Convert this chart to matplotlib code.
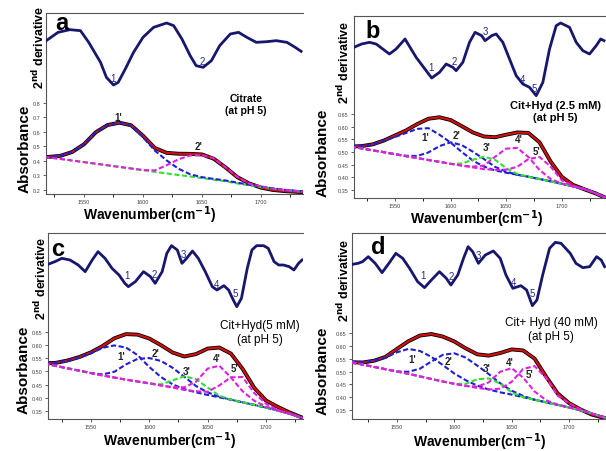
import numpy as np
import matplotlib.pyplot as plt
from matplotlib.ticker import MultipleLocator, FormatStrFormatter

plt.rcParams['font.family'] = ['Liberation Sans', 'DejaVu Sans']

# wavenumber grid of the fitted absorbance curves (cm-1)
wn = [1510, 1520, 1530, 1540, 1550, 1560, 1570, 1580, 1590, 1600, 1610, 1620,
      1630, 1640, 1650, 1660, 1670, 1680, 1690, 1700, 1710, 1720, 1730, 1740]

# panel a: citrate
a_total = [0.428, 0.428, 0.435, 0.462, 0.515, 0.598, 0.648, 0.664, 0.646, 0.574, 0.49, 0.456,
           0.45, 0.449, 0.445, 0.415, 0.355, 0.288, 0.245, 0.216, 0.2, 0.192, 0.187, 0.183]
a_base = [0.432, 0.424, 0.414, 0.403, 0.392, 0.381, 0.37, 0.359, 0.348, 0.337, 0.325, 0.314,
          0.303, 0.293, 0.282, 0.271, 0.26, 0.245, 0.232, 0.22, 0.209, 0.2, 0.192, 0.185]
a_p1 = [0.0, 0.004, 0.021, 0.059, 0.123, 0.217, 0.278, 0.305, 0.295, 0.227, 0.147, 0.09,
        0.044, 0.015, 0.006, 0.005, 0.005, 0.005, 0.004, 0.003, 0.002, 0.001, 0, 0]
a_p2 = [0, 0, 0, 0, 0, 0, 0, 0, 0, 0.0, 0.01, 0.056,
        0.108, 0.145, 0.158, 0.148, 0.095, 0.045, 0.012, 0.004, 0, 0, 0, 0]

# panel b: cit + hyd 2.5 mM
b_total = [0.521, 0.523, 0.53, 0.545, 0.565, 0.585, 0.61, 0.631, 0.637, 0.626, 0.602, 0.577,
           0.561, 0.558, 0.568, 0.577, 0.575, 0.538, 0.462, 0.402, 0.37, 0.353, 0.337, 0.318]
b_base = [0.521, 0.514, 0.506, 0.499, 0.491, 0.483, 0.476, 0.468, 0.461, 0.453, 0.446, 0.439,
          0.432, 0.425, 0.418, 0.41, 0.402, 0.393, 0.384, 0.374, 0.364, 0.354, 0.338, 0.318]
b_p1 = [0.004, 0.01, 0.022, 0.046, 0.068, 0.092, 0.115, 0.126, 0.107, 0.084, 0.054, 0.027,
        0.01, 0.002, 0, 0, 0, 0, 0, 0, 0, 0, 0, 0]
b_p2 = [0, 0, 0, 0, 0, 0.002, 0.008, 0.03, 0.062, 0.085, 0.081, 0.062,
        0.04, 0.016, 0.004, 0, 0, 0, 0, 0, 0, 0, 0, 0]
b_p3 = [0, 0, 0, 0, 0, 0, 0, 0, 0, 0.0, 0.008, 0.03,
        0.049, 0.044, 0.018, 0.003, 0, 0, 0, 0, 0, 0, 0, 0]
b_p4 = [0, 0, 0, 0, 0, 0, 0, 0, 0, 0, 0, 0.003,
        0.014, 0.056, 0.095, 0.106, 0.078, 0.036, 0.009, 0.001, 0, 0, 0, 0]
b_p5 = [0, 0, 0, 0, 0, 0, 0, 0, 0, 0, 0, 0,
        0, 0.004, 0.012, 0.031, 0.07, 0.087, 0.058, 0.014, 0.002, 0, 0, 0]

# panel c: cit + hyd 5 mM
c_total = [0.531, 0.533, 0.542, 0.555, 0.573, 0.597, 0.626, 0.642, 0.64, 0.625, 0.6, 0.572,
           0.557, 0.566, 0.587, 0.591, 0.568, 0.51, 0.438, 0.39, 0.366, 0.345, 0.327, 0.31]
c_base = [0.531, 0.521, 0.512, 0.503, 0.494, 0.485, 0.477, 0.469, 0.462, 0.455, 0.447, 0.439,
          0.43, 0.421, 0.411, 0.402, 0.393, 0.383, 0.373, 0.363, 0.352, 0.34, 0.326, 0.31]
c_p1 = [0.003, 0.012, 0.028, 0.05, 0.075, 0.105, 0.122, 0.122, 0.1, 0.062, 0.032, 0.012,
        0.003, 0, 0, 0, 0, 0, 0, 0, 0, 0, 0, 0]
c_p2 = [0, 0, 0, 0, 0, 0.004, 0.022, 0.058, 0.086, 0.096, 0.093, 0.075,
        0.05, 0.024, 0.01, 0.002, 0, 0, 0, 0, 0, 0, 0, 0]
c_p3 = [0, 0, 0, 0, 0, 0, 0, 0, 0, 0.0, 0.004, 0.027,
        0.052, 0.05, 0.028, 0.006, 0, 0, 0, 0, 0, 0, 0, 0]
c_p4 = [0, 0, 0, 0, 0, 0, 0, 0, 0, 0, 0, 0.002,
        0.01, 0.04, 0.1, 0.12, 0.084, 0.042, 0.016, 0.004, 0, 0, 0, 0]
c_p5 = [0, 0, 0, 0, 0, 0, 0, 0, 0, 0, 0, 0,
        0, 0.004, 0.012, 0.045, 0.085, 0.096, 0.045, 0.015, 0.002, 0, 0, 0]

# panel d: cit + hyd 40 mM
d_total = [0.536, 0.535, 0.542, 0.557, 0.588, 0.618, 0.64, 0.646, 0.636, 0.617, 0.59, 0.567,
           0.562, 0.572, 0.586, 0.582, 0.55, 0.48, 0.415, 0.377, 0.352, 0.332, 0.32, 0.315]
d_base = [0.536, 0.527, 0.518, 0.509, 0.5, 0.491, 0.481, 0.471, 0.461, 0.452, 0.444, 0.436,
          0.428, 0.419, 0.41, 0.4, 0.39, 0.38, 0.37, 0.36, 0.349, 0.336, 0.322, 0.31]
d_p1 = [0.003, 0.01, 0.025, 0.045, 0.075, 0.097, 0.099, 0.086, 0.064, 0.04, 0.022, 0.009,
        0.002, 0, 0, 0, 0, 0, 0, 0, 0, 0, 0, 0]
d_p2 = [0, 0, 0, 0, 0.0, 0.008, 0.03, 0.068, 0.104, 0.119, 0.11, 0.087,
        0.062, 0.035, 0.015, 0.005, 0, 0, 0, 0, 0, 0, 0, 0]
d_p3 = [0, 0, 0, 0, 0, 0, 0, 0, 0, 0, 0.008, 0.034,
        0.045, 0.034, 0.008, 0, 0, 0, 0, 0, 0, 0, 0, 0]
d_p4 = [0, 0, 0, 0, 0, 0, 0, 0, 0, 0, 0, 0.005,
        0.03, 0.08, 0.103, 0.076, 0.032, 0.008, 0.001, 0, 0, 0, 0, 0]
d_p5 = [0, 0, 0, 0, 0, 0, 0, 0, 0, 0, 0, 0,
        0.002, 0.014, 0.05, 0.11, 0.131, 0.095, 0.036, 0.016, 0.004, 0, 0, 0]

# 2nd derivative traces (arbitrary units, plotted inverted-up)
a_dwn = [1518, 1528, 1538, 1547, 1554, 1564, 1569, 1575, 1579, 1585, 1592, 1600, 1609, 1620, 1626,
         1633, 1640, 1645, 1651, 1658, 1665, 1674, 1681, 1688, 1696, 1705, 1713, 1722, 1729, 1734]
a_der = [4.75, 5.0, 5.08, 5.05, 4.7, 4.1, 3.65, 3.42, 3.5, 3.9, 4.4, 4.85, 5.15, 5.28, 5.2,
         4.8, 4.3, 4.0, 3.95, 4.15, 4.6, 4.95, 5.0, 4.85, 4.7, 4.72, 4.75, 4.7, 4.55, 4.43]

b_dwn = [1513, 1520, 1527, 1533, 1539, 1545, 1551, 1559, 1569, 1578, 1583, 1590, 1596, 1602, 1605,
         1611, 1617, 1622, 1628, 1631, 1637, 1641, 1647, 1653, 1659, 1665, 1671, 1677, 1683, 1689,
         1695, 1699, 1707, 1713, 1719, 1725, 1731, 1735, 1738]
b_der = [4.55, 4.65, 4.7, 4.65, 4.5, 4.35, 4.5, 4.8, 4.25, 3.85, 3.63, 3.8, 4.05, 3.95, 3.85,
         4.1, 4.7, 5.0, 4.9, 4.75, 4.9, 4.95, 4.7, 4.2, 3.7, 3.45, 3.35, 3.1, 3.5, 4.5,
         5.2, 5.28, 5.15, 4.7, 4.45, 4.35, 4.6, 4.8, 4.75]

c_dwn = [1513, 1519, 1525, 1532, 1539, 1545, 1551, 1556, 1562, 1568, 1574, 1579, 1582, 1588, 1595,
         1601, 1605, 1611, 1615, 1619, 1624, 1628, 1632, 1637, 1642, 1648, 1654, 1658, 1664, 1668,
         1672, 1675, 1679, 1684, 1688, 1692, 1698, 1702, 1707, 1711, 1715, 1720, 1724, 1728, 1731]
c_der = [4.82, 4.9, 5.0, 4.95, 4.8, 4.6, 4.95, 5.2, 5.0, 4.7, 4.5, 4.25, 4.15, 4.3, 4.6,
         4.45, 4.25, 4.6, 5.15, 5.38, 5.25, 4.85, 5.0, 5.22, 5.0, 4.6, 4.15, 4.05, 4.18, 4.05,
         3.75, 3.55, 3.8, 4.7, 5.25, 5.38, 5.38, 5.3, 4.9, 4.8, 4.8, 4.75, 4.65, 4.85, 4.95]

d_dwn = [1511, 1516, 1520, 1525, 1531, 1537, 1544, 1549, 1555, 1561, 1568, 1574, 1580, 1587, 1593,
         1597, 1603, 1608, 1612, 1616, 1621, 1627, 1634, 1640, 1645, 1651, 1658, 1663, 1668, 1672,
         1677, 1683, 1688, 1693, 1701, 1706, 1712, 1718, 1724, 1728, 1731]
d_der = [4.82, 4.85, 4.9, 5.05, 4.85, 4.57, 4.9, 5.15, 5.0, 4.7, 4.3, 4.12, 4.35, 4.6, 4.4,
         4.2, 4.5, 5.0, 5.35, 5.2, 4.85, 5.1, 5.22, 5.0, 4.5, 4.1, 4.18, 4.05, 3.58, 3.75,
         4.5, 5.3, 5.48, 5.45, 5.15, 4.85, 4.72, 4.75, 5.05, 4.95, 4.75]

BLUE = '#1f1fd6'
GREEN = '#2fe02f'
MAGENTA = '#e01fe0'
NAVY = '#17176e'

W, H = 606, 452
fig = plt.figure(figsize=(6.06, 4.52), dpi=100)


def px(x, y):
    return x / W, 1 - y / H


def panel(box, xlim, ylim, dlim, yticks, yfmt, total, base, peaks, pcolors, plabels,
          dwn, der, dlabels, show_base):
    l, t, r, b = box
    ax = fig.add_axes([l / W, 1 - b / H, (r - l) / W, (b - t) / H])
    ax.plot(wn, total, color='black', lw=2.8, zorder=2)
    ax.plot(wn, total, color='#d01010', lw=1.6, zorder=3)
    base = np.array(base)
    if show_base:
        ax.plot(wn, base, color=GREEN, lw=1.5, ls=(0, (2.5, 1.2)), zorder=4)
    for p, c in zip(peaks, pcolors):
        ax.plot(wn, base + np.array(p), color=c, lw=1.5, ls=(0, (2.5, 1.2)), zorder=4)
    for (x, y, s) in plabels:
        ax.text(x, y, s, fontsize=7, fontweight='bold', color='#222222', ha='center', va='center', zorder=6)
    ax.set_xlim(*xlim)
    ax.set_ylim(*ylim)
    ax.set_yticks(yticks)
    ax.yaxis.set_major_formatter(FormatStrFormatter(yfmt))
    ax.xaxis.set_major_locator(MultipleLocator(50))
    ax.xaxis.set_minor_locator(MultipleLocator(25))
    ax.tick_params(labelsize=4, colors='#444444', length=2.5, width=0.6, pad=1.2)
    ax.tick_params(which='minor', length=2, width=0.6)
    for s in ['top', 'left', 'bottom']:
        ax.spines[s].set_linewidth(0.8)
        ax.spines[s].set_color('#555555')
    ax.spines['right'].set_visible(False)

    ax2 = ax.twinx()
    ax2.plot(dwn, der, color=NAVY, lw=2.0)
    for (x, y, s) in dlabels:
        ax2.text(x, y, s, fontsize=7, color='#2a2a88', ha='center', va='center')
    ax2.set_ylim(*dlim)
    ax2.set_xlim(*xlim)
    ax2.set_yticks([])
    for s in ax2.spines.values():
        s.set_visible(False)
    return ax


# a
panel((46, 14, 303, 195), (1517.8, 1735.6), (0.172, 1.421), (0.15, 5.58),
      [0.2, 0.3, 0.4, 0.5, 0.6, 0.7, 0.8], '%.1f',
      a_total, a_base, [a_p1, a_p2], [BLUE, MAGENTA],
      [(1579, 0.705, "1'"), (1647.5, 0.506, "2'")],
      a_dwn, a_der, [(1575, 3.62, '1'), (1650, 4.15, '2')], True)
# b
panel((354, 17, 606, 199), (1513.1, 1739.8), (0.318, 1.037), (0.03, 5.49),
      [0.35, 0.40, 0.45, 0.50, 0.55, 0.60, 0.65], '%.2f',
      b_total, b_base, [b_p1, b_p2, b_p3, b_p4, b_p5], [BLUE, BLUE, GREEN, MAGENTA, MAGENTA],
      [(1577, 0.558, "1'"), (1605, 0.565, "2'"), (1632, 0.519, "3'"), (1661, 0.552, "4'"), (1677, 0.505, "5'")],
      b_dwn, b_der, [(1582.6, 3.95, '1'), (1603.6, 4.15, '2'), (1631.4, 5.05, '3'),
                     (1664.4, 3.6, '4'), (1675.4, 3.32, '5')], False)
# c
panel((48, 234, 303, 420), (1513.1, 1731.8), (0.3196, 1.026), (0.18, 5.76),
      [0.35, 0.40, 0.45, 0.50, 0.55, 0.60, 0.65], '%.2f',
      c_total, c_base, [c_p1, c_p2, c_p3, c_p4, c_p5], [BLUE, BLUE, GREEN, MAGENTA, MAGENTA],
      [(1576, 0.56, "1'"), (1605, 0.57, "2'"), (1632, 0.503, "3'"), (1658, 0.55, "4'"), (1673.5, 0.512, "5'")],
      c_dwn, c_der, [(1580.7, 4.5, '1'), (1604, 4.52, '2'), (1628.8, 5.12, '3'),
                     (1658, 4.22, '4'), (1673.8, 3.95, '5')], False)
# d
panel((352, 234, 606, 420), (1510.8, 1732.2), (0.315, 1.0396), (0.18, 5.76),
      [0.35, 0.40, 0.45, 0.50, 0.55, 0.60, 0.65], '%.2f',
      d_total, d_base, [d_p1, d_p2, d_p3, d_p4, d_p5], [BLUE, BLUE, GREEN, MAGENTA, MAGENTA],
      [(1563, 0.548, "1'"), (1595, 0.542, "2'"), (1628, 0.512, "3'"), (1648.5, 0.538, "4'"), (1666, 0.49, "5'")],
      d_dwn, d_der, [(1572.7, 4.5, '1'), (1597.4, 4.48, '2'), (1620.6, 5.1, '3'),
                     (1651.2, 4.3, '4'), (1668, 3.95, '5')], False)

# panel letters
for (x, y, s) in [(62, 24, 'a'), (373, 31, 'b'), (58, 250, 'c'), (378, 248, 'd')]:
    fig.text(*px(x, y), s, fontsize=17, fontweight='bold', ha='center', va='center')

# axis labels
for (x, y) in [(150, 215), (477, 219), (170, 441), (480, 442)]:
    fig.text(*px(x, y), 'Wavenumber(cm$^{\\mathbf{-1}}$)', fontsize=10, fontweight='bold',
             ha='center', va='center')
for (x, y) in [(25, 149), (323, 153), (24, 370), (323, 371)]:
    fig.text(*px(x, y), 'Absorbance', fontsize=11, fontweight='bold', rotation=90,
             ha='center', va='center')
for (x, y) in [(39, 47), (344, 62), (41, 278), (344, 280)]:
    fig.text(*px(x, y), '2$^{\\mathbf{nd}}$ derivative', fontsize=9, fontweight='bold',
             rotation=90, ha='center', va='center')

# sample annotations
fig.text(*px(246, 105), 'Citrate\n(at pH 5)', fontsize=7.5, fontweight='bold',
         ha='center', va='center', linespacing=1.3)
fig.text(*px(555, 112), 'Cit+Hyd (2.5 mM)\n(at pH 5)', fontsize=8, fontweight='bold',
         ha='center', va='center', linespacing=1.3)
fig.text(*px(260, 333), 'Cit+Hyd(5 mM)\n(at pH 5)', fontsize=8.5,
         ha='center', va='center', linespacing=1.2)
fig.text(*px(551, 330), 'Cit+ Hyd (40 mM)\n(at pH 5)', fontsize=8.5,
         ha='center', va='center', linespacing=1.2)

fig.savefig('out.png', dpi=100)
